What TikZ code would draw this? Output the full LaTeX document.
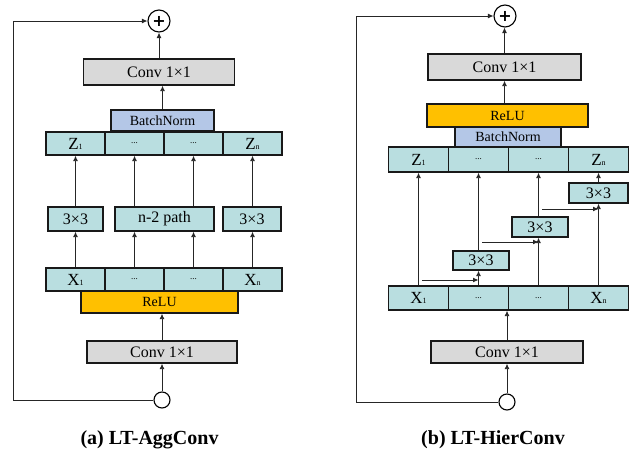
\documentclass[tikz,border=0pt]{standalone}
\usepackage{fontspec}
\setmainfont{Liberation Serif}
\newfontfamily\plusfont{DejaVu Sans}
\usetikzlibrary{arrows.meta,positioning}
\definecolor{cellcyan}{RGB}{185,222,224}
\definecolor{convgray}{RGB}{217,217,217}
\definecolor{bnblue}{RGB}{180,199,231}
\definecolor{reluamber}{RGB}{255,192,0}
\newcommand{\ix}[1]{{\fontsize{8}{8}\selectfont #1}}

\begin{document}
\begin{tikzpicture}[x=1pt, y=-1pt,
    box/.style={draw=black!90, line width=1.3pt, inner sep=0pt},
    cell/.style={box, fill=cellcyan, minimum width=59pt, minimum height=23pt, font=\fontsize{17}{17}\selectfont},
    kern/.style={box, fill=cellcyan, minimum height=20pt, font=\fontsize{16}{16}\selectfont},
    conv/.style={box, fill=convgray, minimum width=151pt, minimum height=24pt, font=\fontsize{16}{16}\selectfont},
    bn/.style={box, fill=bnblue, minimum height=21pt, font=\fontsize{14}{14}\selectfont},
    relu/.style={box, fill=reluamber, minimum height=22pt, font=\fontsize{14}{14}\selectfont},
    dots/.style={font=\fontsize{9}{9}\selectfont},
    plus/.style={draw, circle, line width=1.1pt, minimum size=22pt, inner sep=0pt, font=\plusfont\bfseries\fontsize{16}{16}\selectfont},
    inp/.style={draw, circle, line width=1.1pt, fill=white, minimum size=16pt, inner sep=0pt},
    arr/.style={draw=black!85, line width=0.9pt, -{Latex[length=5.5pt,width=5pt]}},
    caption/.style={font=\fontsize{20}{20}\selectfont\bfseries}]
\useasboundingbox (0,0) rectangle (643,455);

% (a) LT-AggConv
\node[plus] (pa) at (159,21) {+};
\node[conv, minimum height=26pt] (ca2) at (159,72) {Conv 1\texttimes1};
\node[bn, minimum width=103pt] (bna) at (162.5,120.5) {BatchNorm};
\node[cell] (za1) at (75.5,143.5) {Z\ix{1}};
\node[cell, dots] (za2) at (134.5,143.5) {...};
\node[cell, dots] (za3) at (193.5,143.5) {...};
\node[cell] (zan) at (252.5,143.5) {Z\ix{n}};
\node[kern, minimum width=55pt, minimum height=24pt] (ka1) at (75.5,219) {3\texttimes3};
\node[kern, minimum width=99pt, minimum height=24pt] (kpath) at (164.5,219) {n-2 path};
\node[kern, minimum width=58pt, minimum height=24pt] (kan) at (252,219) {3\texttimes3};
\node[cell] (xa1) at (75.5,279.5) {X\ix{1}};
\node[cell, dots] (xa2) at (134.5,279.5) {...};
\node[cell, dots] (xa3) at (193.5,279.5) {...};
\node[cell] (xan) at (252.5,279.5) {X\ix{n}};
\node[relu, minimum width=157pt] (rla) at (159.5,302) {ReLU};
\node[conv, minimum width=150pt, minimum height=22pt] (ca1) at (162,352) {Conv 1\texttimes1};
\node[inp] (ina) at (162,400) {};
\coordinate (skipa) at (13,21);
\node[caption] (capa) at (149.5,440) {(a) LT-AggConv};

\draw[arr] (ina) -- (ca1);
\draw[arr] (ca1.north) -- (ca1.north |- rla.south);
\draw[arr] (xa1) -- (ka1);
\draw[arr] (xa2) -- (kpath.south -| xa2);
\draw[arr] (xa3) -- (kpath.south -| xa3);
\draw[arr] (xan) -- (kan.south -| xan);
\draw[arr] (ka1) -- (za1);
\draw[arr] (kpath.north -| za2) -- (za2);
\draw[arr] (kpath.north -| za3) -- (za3);
\draw[arr] (kan.north -| zan) -- (zan);
\draw[arr] (bna.north) -- (bna.north |- ca2.south);
\draw[arr] (ca2.north) -- (ca2.north |- pa.south);
\draw[arr] (ina.west) -| (skipa) -- (pa.west);

% (b) LT-HierConv
\node[plus] (pb) at (505,16) {+};
\node[conv, minimum width=153pt, minimum height=26pt] (cb2) at (504.5,67) {Conv 1\texttimes1};
\node[relu, minimum width=161pt, minimum height=23pt] (rlb) at (507.5,115.5) {ReLU};
\node[bn, minimum width=106pt, minimum height=20pt] (bnb) at (508,137) {BatchNorm};
\node[cell, minimum width=60pt, minimum height=25pt] (zb1) at (418.5,159.5) {Z\ix{1}};
\node[cell, dots, minimum width=60pt, minimum height=25pt] (zb2) at (478.5,159.5) {...};
\node[cell, dots, minimum width=60pt, minimum height=25pt] (zb3) at (538.5,159.5) {...};
\node[cell, minimum width=60pt, minimum height=25pt] (zbn) at (598.5,159.5) {Z\ix{n}};
\node[kern, minimum width=59pt] (kbn) at (598.5,193) {3\texttimes3};
\node[kern, minimum width=56pt] (kb3) at (540,227) {3\texttimes3};
\node[kern, minimum width=56pt, minimum height=19pt] (kb2) at (481,260.5) {3\texttimes3};
\node[cell, minimum width=60pt, minimum height=24pt] (xb1) at (418.5,298) {X\ix{1}};
\node[cell, dots, minimum width=60pt, minimum height=24pt] (xb2) at (478.5,298) {...};
\node[cell, dots, minimum width=60pt, minimum height=24pt] (xb3) at (538.5,298) {...};
\node[cell, minimum width=60pt, minimum height=24pt] (xbn) at (598.5,298) {X\ix{n}};
\node[conv, minimum width=152pt, minimum height=22pt] (cb1) at (507,352) {Conv 1\texttimes1};
\node[inp] (inb) at (507,402) {};
\coordinate (skipb) at (356,16);
\coordinate (h1) at (422,280);
\coordinate (h2) at (482,242);
\coordinate (h3) at (542,209);
\node[caption] (capb) at (493,440) {(b) LT-HierConv};

\draw[arr] (inb) -- (cb1);
\draw[arr] (cb1.north) -- (cb1.north |- xb2.south);
\draw[arr] (xb1) -- (zb1);
\draw[arr] (xb2) -- (kb2.south -| xb2);
\draw[arr] (kb2.north -| xb2) -- (zb2);
\draw[arr] (xb3) -- (kb3.south -| xb3);
\draw[arr] (kb3.north -| xb3) -- (zb3);
\draw[arr] (xbn) -- (kbn);
\draw[arr] (kbn) -- (zbn);
\draw[arr] (h1) -- (h1 -| xb2);
\draw[arr] (h2) -- (h2 -| xb3);
\draw[arr] (h3) -- (h3 -| xbn);
\draw[arr] (rlb.north -| cb2) -- (cb2.south);
\draw[arr] (cb2.north) -- (cb2.north |- pb.south);
\draw[arr] (inb.west) -| (skipb) -- (pb.west);
\end{tikzpicture}
\end{document}
